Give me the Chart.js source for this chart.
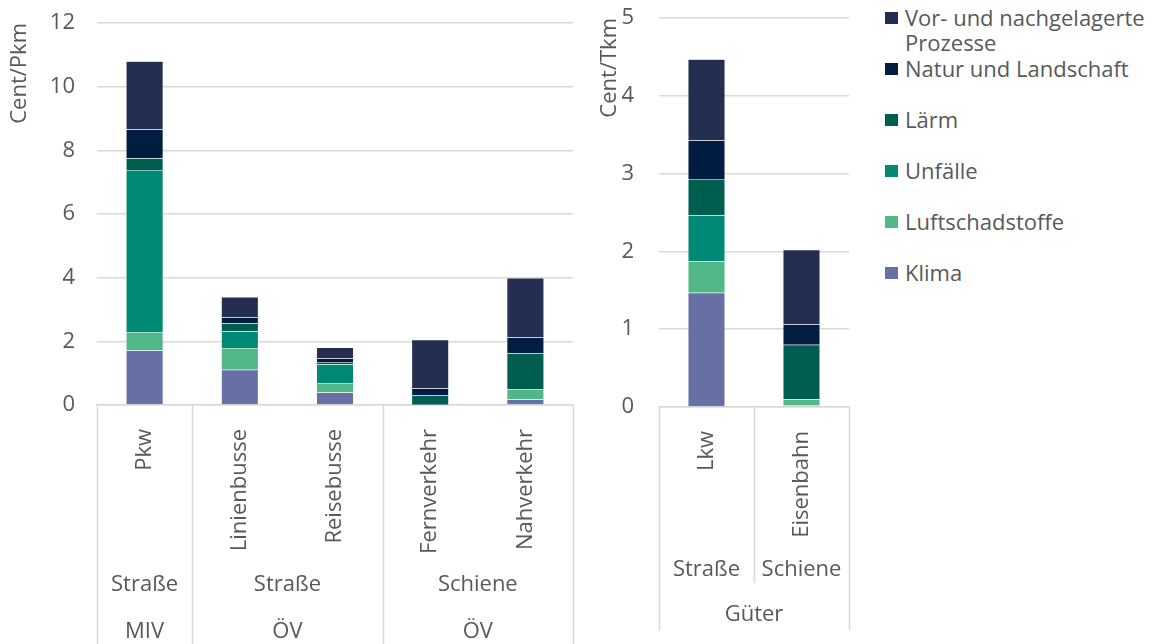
<!DOCTYPE html>
<html>
<head>
<meta charset="utf-8">
<script src="https://cdn.jsdelivr.net/npm/chart.js@4.4.0/dist/chart.umd.min.js"></script>
<style>
  body { margin: 0; background: #fff; width: 1165px; height: 644px; overflow: hidden; position: relative; font-family: "Open Sans", sans-serif; }
  #chart-pkm { position: absolute; left: 0; top: 0; }
  #chart-tkm { position: absolute; left: 590px; top: 0; }
  .legend { position: absolute; left: 885px; top: 0; color: #595959; font-size: 22px; }
  .legend-item { position: absolute; left: 0; width: 262px; line-height: 25px; padding-left: 20px; }
  .legend-item span { position: absolute; left: 0; top: 7px; width: 13px; height: 12px; }
</style>
</head>
<body>
<canvas id="chart-pkm" width="590" height="644"></canvas>
<canvas id="chart-tkm" width="280" height="644"></canvas>
<div class="legend" id="legend"></div>

<script>
// Data (bottom -> top of the stacks)
const seriesNames = ['Klima', 'Luftschadstoffe', 'Unfälle', 'Lärm', 'Natur und Landschaft', 'Vor- und nachgelagerte Prozesse'];
const seriesColors = ['#6670a4', '#52b788', '#008a76', '#005e50', '#011e42', '#232e50'];

// Personenverkehr (Cent/Pkm)
const pkmCategories = ['Pkw', 'Linienbusse', 'Reisebusse', 'Fernverkehr', 'Nahverkehr'];
const pkmMid = ['Straße', 'Straße', '', 'Schiene', ''];
const pkmOuter = ['MIV', 'ÖV', '', 'ÖV', ''];
const pkmKlima = [1.71, 1.11, 0.39, 0.01, 0.17];
const pkmLuft = [0.58, 0.68, 0.30, 0.00, 0.32];
const pkmUnfaelle = [5.09, 0.53, 0.59, 0.00, 0.00];
const pkmLaerm = [0.37, 0.24, 0.07, 0.29, 1.13];
const pkmNatur = [0.91, 0.20, 0.12, 0.23, 0.51];
const pkmVor = [2.14, 0.63, 0.34, 1.52, 1.86];
const pkmTicks = [0, 12, 2];

// Güterverkehr (Cent/Tkm)
const tkmCategories = ['Lkw', 'Eisenbahn'];
const tkmMid = ['Straße', 'Schiene'];
const tkmOuter = ['Güter', ''];
const tkmKlima = [1.47, 0.02];
const tkmLuft = [0.40, 0.08];
const tkmUnfaelle = [0.59, 0.00];
const tkmLaerm = [0.47, 0.70];
const tkmNatur = [0.50, 0.26];
const tkmVor = [1.04, 0.96];
const tkmTicks = [0, 5, 1];

const textColor = '#595959';
const lineColor = '#d9d9d9';
const fontFamily = '"Open Sans", sans-serif';
const fontSize = 22;

function makeDatasets(valueLists) {
  return valueLists.map((values, i) => ({
    label: seriesNames[i],
    data: values,
    backgroundColor: seriesColors[i],
    borderColor: 'rgba(255,255,255,0.25)',
    borderWidth: 0.5,
    barPercentage: 0.39,
    categoryPercentage: 1
  }));
}

// groups start at a non-empty label, blank cells continue the group
function spans(labels) {
  const out = [];
  labels.forEach((l, i) => {
    if (l !== '' || out.length === 0) out.push({ label: l, from: i, to: i });
    else out[out.length - 1].to = i;
  });
  return out;
}

const groupAxis = {
  id: 'groupAxis',
  afterDraw(chart, args, opts) {
    const x = chart.scales.x;
    const ctx = chart.ctx;
    const n = chart.data.labels.length;
    const w = x.width / n;
    const edge = i => x.left + i * w;
    const top = x.top;
    ctx.save();
    ctx.strokeStyle = lineColor;
    ctx.lineWidth = 1.5;
    const outer = spans(opts.outer);
    const mid = spans(opts.mid);
    const outerEdges = new Set();
    outer.forEach(g => { outerEdges.add(g.from); outerEdges.add(g.to + 1); });
    const midEdges = new Set();
    mid.forEach(g => { midEdges.add(g.from); midEdges.add(g.to + 1); });
    for (let i = 0; i <= n; i++) {
      let bottom = null;
      if (outerEdges.has(i)) bottom = opts.outerLineEnd;
      else if (midEdges.has(i)) bottom = opts.midLineEnd;
      if (bottom === null) continue;
      const px = Math.round(edge(i)) + 0.5;
      ctx.beginPath();
      ctx.moveTo(px, top);
      ctx.lineTo(px, bottom);
      ctx.stroke();
    }
    ctx.fillStyle = textColor;
    ctx.font = fontSize + 'px ' + fontFamily;
    ctx.textAlign = 'center';
    ctx.textBaseline = 'middle';
    mid.forEach(g => ctx.fillText(g.label, (edge(g.from) + edge(g.to + 1)) / 2, opts.midY));
    outer.forEach(g => ctx.fillText(g.label, (edge(g.from) + edge(g.to + 1)) / 2, opts.outerY));
    ctx.restore();
  }
};

function makeOptions(cfg) {
  return {
    responsive: false,
    animation: false,
    layout: { padding: { top: cfg.padTop, right: cfg.padRight, left: 0, bottom: 0 } },
    plugins: {
      legend: { display: false },
      tooltip: { enabled: false },
      groupAxis: cfg.groups
    },
    scales: {
      x: {
        stacked: true,
        grid: { display: false },
        border: { display: true, color: lineColor, width: 1.5 },
        ticks: {
          autoSkip: false, minRotation: 90, maxRotation: 90, padding: 16,
          color: textColor, font: { family: fontFamily, size: fontSize }
        },
        afterFit: s => { s.height = cfg.xHeight; }
      },
      y: {
        stacked: true,
        min: cfg.ticks[0], max: cfg.ticks[1],
        // ticks.padding would also push the plot top down, so use an invisible tick mark for the gap
        grid: { color: lineColor, lineWidth: 1.5, tickLength: cfg.tickGap, tickColor: 'rgba(0,0,0,0)' },
        border: { display: false },
        ticks: {
          stepSize: cfg.ticks[2], padding: 0,
          color: textColor, font: { family: fontFamily, size: fontSize }
        },
        title: {
          display: true, text: cfg.title, align: 'end',
          color: textColor, font: { family: fontFamily, size: fontSize },
          padding: { top: 7, bottom: 0 }
        },
        afterFit: s => { s.width = cfg.yWidth; }
      }
    }
  };
}

const pkmChart = new Chart(document.getElementById('chart-pkm').getContext('2d'), {
  type: 'bar',
  data: {
    labels: pkmCategories,
    datasets: makeDatasets([pkmKlima, pkmLuft, pkmUnfaelle, pkmLaerm, pkmNatur, pkmVor])
  },
  options: makeOptions({
    padTop: 23, padRight: 17, xHeight: 239, yWidth: 97, tickGap: 22,
    ticks: pkmTicks, title: 'Cent/Pkm',
    groups: { mid: pkmMid, outer: pkmOuter, midY: 585, outerY: 632, midLineEnd: 644, outerLineEnd: 644 }
  }),
  plugins: [groupAxis]
});

const tkmChart = new Chart(document.getElementById('chart-tkm').getContext('2d'), {
  type: 'bar',
  data: {
    labels: tkmCategories,
    datasets: makeDatasets([tkmKlima, tkmLuft, tkmUnfaelle, tkmLaerm, tkmNatur, tkmVor])
  },
  options: makeOptions({
    padTop: 18, padRight: 21, xHeight: 237, yWidth: 69, tickGap: 25,
    ticks: tkmTicks, title: 'Cent/Tkm',
    groups: { mid: tkmMid, outer: tkmOuter, midY: 570, outerY: 615, midLineEnd: 583, outerLineEnd: 630 }
  }),
  plugins: [groupAxis]
});

// Legend, top entry = top of the stack
const legendEl = document.getElementById('legend');
seriesNames.slice().reverse().forEach((name, i) => {
  const item = document.createElement('div');
  item.className = 'legend-item';
  item.style.top = (5 + i * 51) + 'px';
  const box = document.createElement('span');
  box.style.background = seriesColors[seriesNames.length - 1 - i];
  item.appendChild(box);
  item.appendChild(document.createTextNode(name));
  legendEl.appendChild(item);
});
</script>
</body>
</html>
